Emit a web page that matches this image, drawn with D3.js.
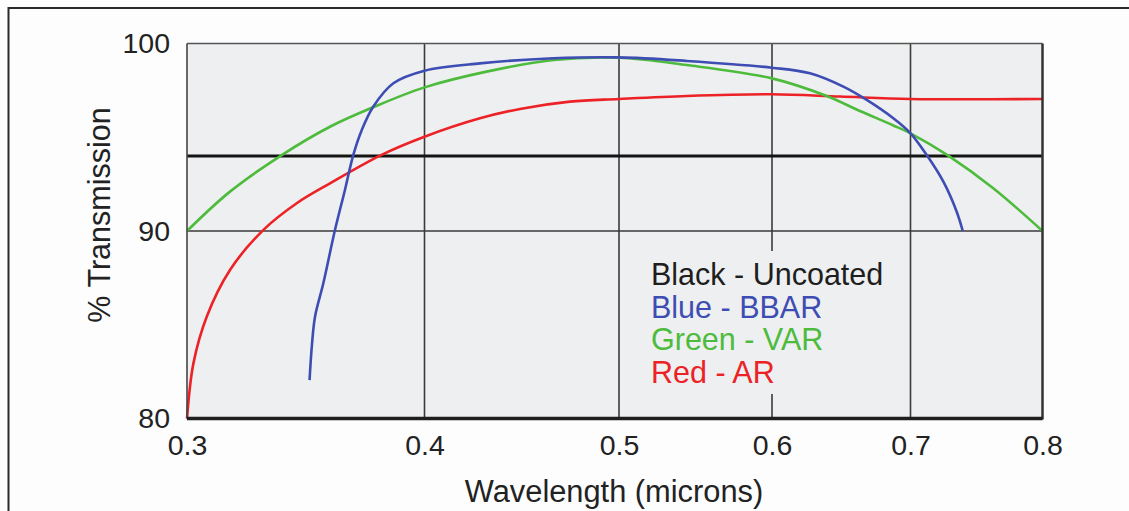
<!DOCTYPE html>
<html>
<head>
<meta charset="utf-8">
<script src="https://cdn.jsdelivr.net/npm/d3@7"></script>
<style>
  html, body { margin: 0; padding: 0; background: #fdfdfd; }
  svg { display: block; font-family: "Liberation Sans", Arial, Helvetica, sans-serif; }
</style>
</head>
<body>
<svg id="chart" width="1129" height="511"></svg>
<script>
// ---- data ----
const xTicks = [0.3, 0.4, 0.5, 0.6, 0.7, 0.8];
const xTickLabels = ["0.3", "0.4", "0.5", "0.6", "0.7", "0.8"];
const yTicks = [80, 90, 100];
const yTickLabels = ["80", "90", "100"];

const uncoated = [[0.3, 94], [0.8, 94]];

const bbar = [
  [0.3516, 82.05], [0.3526, 83.92], [0.3539, 85.43], [0.3574, 87.21], [0.3623, 90.05],
  [0.3665, 92.19], [0.3700, 94.05], [0.3736, 95.39], [0.3784, 96.63], [0.3869, 97.88],
  [0.400, 98.55], [0.4285, 98.94], [0.4662, 99.21], [0.500, 99.26], [0.5443, 99.07],
  [0.600, 98.71], [0.6274, 98.41], [0.6515, 97.70], [0.6684, 96.99], [0.6876, 96.01],
  [0.700, 95.21], [0.7123, 94.05], [0.7249, 92.63], [0.7350, 91.03], [0.7396, 90.0]
];

const vAR = [
  [0.300, 90.0], [0.3181, 92.10], [0.3399, 94.05], [0.3602, 95.56], [0.3784, 96.60],
  [0.400, 97.66], [0.4319, 98.50], [0.4662, 99.12], [0.500, 99.24], [0.5443, 98.85],
  [0.600, 98.14], [0.6395, 97.20], [0.6635, 96.40], [0.6876, 95.63],
  [0.700, 95.21], [0.7286, 94.02], [0.7627, 92.28], [0.800, 90.0]
];

const aR = [
  [0.300, 80.0], [0.3027, 82.94], [0.3083, 85.43], [0.3181, 87.92], [0.3321, 90.05],
  [0.3462, 91.48], [0.3602, 92.54], [0.3817, 94.05], [0.400, 95.03], [0.4285, 96.01],
  [0.4491, 96.51], [0.4748, 96.90], [0.500, 97.04], [0.5443, 97.20], [0.600, 97.29],
  [0.6491, 97.17], [0.700, 97.04], [0.800, 97.04]
];

const legendLabels = ["Black - Uncoated", "Blue - BBAR", "Green - VAR", "Red - AR"];
const legendColors = ["#1e1e1e", "#3d4db3", "#4dbb3c", "#ec2227"];

// ---- layout ----
const svg = d3.select("#chart");
const xPix = [187, 424.5, 619, 772, 910.5, 1042.5];
const x = d3.scaleLinear().domain(xTicks).range(xPix);
const y = d3.scaleLinear().domain([80, 100]).range([418.5, 43.5]);
const [x0, x1] = [x(0.3), x(0.8)];
const [yTop, yBot] = [y(100), y(80)];

// outer frame
svg.append("path")
  .attr("d", "M8.5,511 V8 H1129")
  .attr("fill", "none").attr("stroke", "#2a2a2a").attr("stroke-width", 2);

// plot background
svg.append("rect")
  .attr("x", x0).attr("y", yTop).attr("width", x1 - x0).attr("height", yBot - yTop)
  .attr("fill", "#eeeff0");

// vertical grid
svg.append("g").selectAll("line")
  .data(xTicks.slice(1, -1)).join("line")
  .attr("x1", d => x(d)).attr("x2", d => x(d))
  .attr("y1", yTop).attr("y2", yBot)
  .attr("stroke", "#3a3a3a").attr("stroke-width", 1.6);

// horizontal grid (90)
svg.append("g").selectAll("line")
  .data(yTicks.slice(1, -1)).join("line")
  .attr("x1", x0).attr("x2", x1)
  .attr("y1", d => y(d)).attr("y2", d => y(d))
  .attr("stroke", "#3a3a3a").attr("stroke-width", 1.6);

// legend background (hides grid line)
svg.append("rect")
  .attr("x", 640).attr("y", 251).attr("width", 255).attr("height", 143)
  .attr("fill", "#eeeff0");

// curves
const line = d3.line().x(d => x(d[0])).y(d => y(d[1])).curve(d3.curveCatmullRom.alpha(0.5));
const series = [
  { data: uncoated, color: "#141414", w: 3 },
  { data: aR, color: "#ec2227", w: 2.6 },
  { data: vAR, color: "#4dbb3c", w: 2.6 },
  { data: bbar, color: "#3d4db3", w: 2.6 }
];
svg.append("g").selectAll("path")
  .data(series).join("path")
  .attr("d", d => line(d.data))
  .attr("fill", "none")
  .attr("stroke", d => d.color)
  .attr("stroke-width", d => d.w)
  .attr("stroke-linecap", "butt")
  .attr("stroke-linejoin", "round");

// plot border
svg.append("line").attr("x1", x0).attr("x2", x1).attr("y1", yTop).attr("y2", yTop)
  .attr("stroke", "#555").attr("stroke-width", 1.5);
svg.append("line").attr("x1", x0).attr("x2", x0).attr("y1", yTop).attr("y2", yBot)
  .attr("stroke", "#444").attr("stroke-width", 1.6);
svg.append("line").attr("x1", x1).attr("x2", x1).attr("y1", yTop).attr("y2", yBot + 1)
  .attr("stroke", "#333").attr("stroke-width", 2.5);

// x axis
const xAxis = d3.axisBottom(x).tickValues(xTicks)
  .tickFormat((d, i) => xTickLabels[i]).tickSize(0).tickPadding(12);
const gx = svg.append("g").attr("transform", `translate(0,${yBot})`).call(xAxis);
gx.select(".domain").attr("stroke", "#1e1e1e").attr("stroke-width", 3.5)
  .attr("d", `M${x0},0H${x1}`);
gx.selectAll("text").attr("font-size", 28.5).attr("fill", "#222")
  .attr("font-family", "Liberation Sans, Arial, sans-serif")
  .attr("dy", null).attr("y", 36.5);

// y axis
const yAxis = d3.axisLeft(y).tickValues(yTicks)
  .tickFormat((d, i) => yTickLabels[i]).tickSize(0).tickPadding(17);
const gy = svg.append("g").attr("transform", `translate(${x0},0)`).call(yAxis);
gy.select(".domain").remove();
gy.selectAll("text").attr("font-size", 28.5).attr("fill", "#222")
  .attr("font-family", "Liberation Sans, Arial, sans-serif");

// axis titles
svg.append("text")
  .attr("x", 614).attr("y", 502).attr("text-anchor", "middle")
  .attr("font-size", 30.8).attr("fill", "#222")
  .text("Wavelength (microns)");
svg.append("text")
  .attr("transform", "translate(110,215) rotate(-90)")
  .attr("text-anchor", "middle")
  .attr("font-size", 30.5).attr("fill", "#222")
  .text("% Transmission");

// legend text
svg.append("g").selectAll("text")
  .data(legendLabels).join("text")
  .attr("x", 651).attr("y", (d, i) => 285 + i * 32.5)
  .attr("font-size", 30.5)
  .attr("fill", (d, i) => legendColors[i])
  .text(d => d);
</script>
</body>
</html>
